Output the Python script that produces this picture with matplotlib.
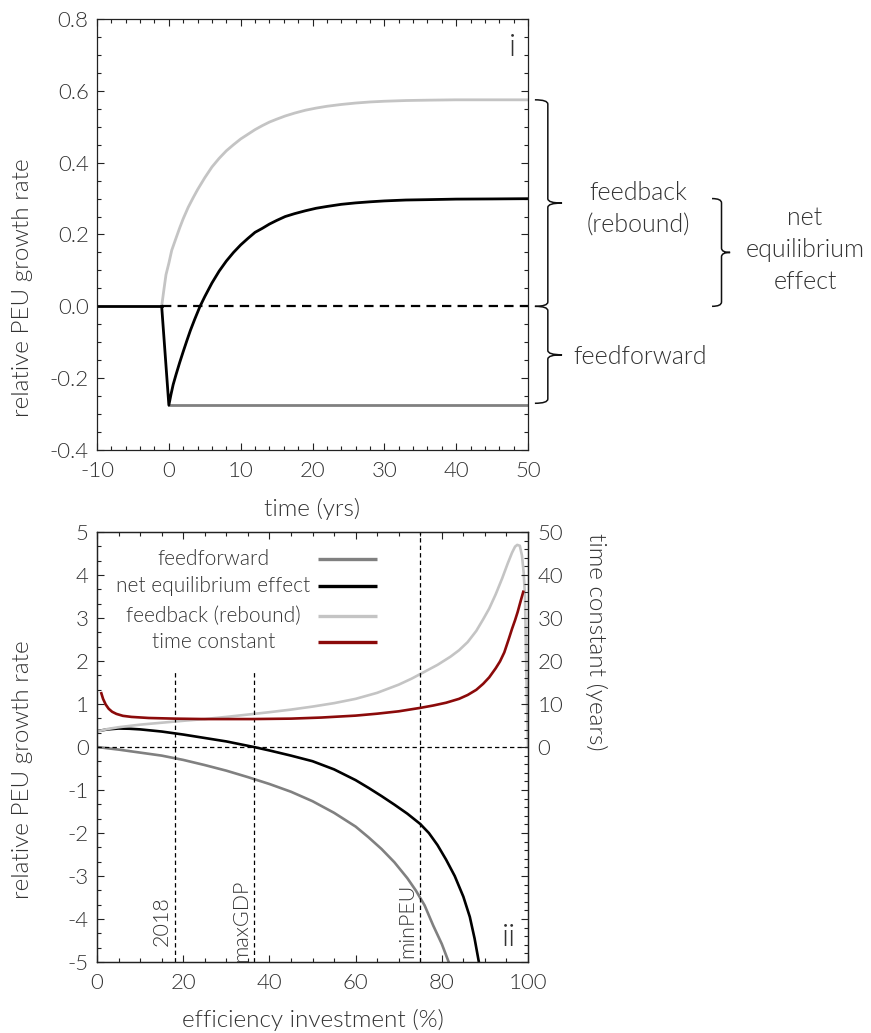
import os
import matplotlib
matplotlib.use("Agg")
import matplotlib.pyplot as plt
import matplotlib.transforms as mtransforms
from matplotlib import font_manager as fm
from matplotlib.path import Path
from matplotlib.patches import PathPatch
from matplotlib.ticker import MultipleLocator, FormatStrFormatter, FuncFormatter

# pick a real "Light" face (not hairline/thin) if one is installed
light_files = ["Lato-Light.ttf", "OpenSans-Light.ttf", "Roboto-Light.ttf",
               "NotoSans-Light.ttf", "Inter-Light.ttf"]
font_name, font_weight = "Lato", "normal"
entries = fm.fontManager.ttflist
found = False
for lf in light_files:
    for f in entries:
        if os.path.basename(f.fname) == lf:
            font_name, font_weight = f.name, f.weight
            found = True
            break
    if found:
        break

plt.rcParams["font.family"] = [font_name, "DejaVu Sans"]
plt.rcParams["font.weight"] = font_weight
plt.rcParams["axes.labelweight"] = font_weight
plt.rcParams["axes.unicode_minus"] = False
TXT = "#333333"

C_FF = "#808080"
C_NET = "#000000"
C_FB = "#c4c4c4"
C_TC = "#8b0a0a"

# ---- panel i: response over time (yrs) ----
t_pre = [-10, -1]
v_pre = [0, 0]

t_fb = [-1, -0.7, -0.4, 0, 0.4, 1, 1.5, 2, 2.7, 3.4, 4, 5, 6, 7, 8, 9, 10,
        11, 12, 13, 14, 15, 16.2, 17.5, 19, 20.5, 22, 24, 26, 28, 30, 33, 36,
        40, 45, 50]
v_fb = [0, 0.045, 0.088, 0.12, 0.156, 0.19, 0.218, 0.244, 0.276, 0.303,
        0.325, 0.358, 0.388, 0.412, 0.433, 0.45, 0.466, 0.479, 0.492, 0.503,
        0.513, 0.521, 0.530, 0.538, 0.546, 0.552, 0.557, 0.562, 0.566, 0.569,
        0.571, 0.573, 0.574, 0.575, 0.575, 0.575]

t_net = [-1, 0, 0.3, 0.6, 1, 1.5, 2, 2.5, 3, 3.6, 4.34, 5, 6, 7, 8, 9, 10,
         11, 12, 13, 14, 15, 16.2, 17.5, 19, 20.5, 22, 24, 26, 28, 30, 33,
         36, 40, 45, 50]
v_net = [0, -0.275, -0.245, -0.218, -0.19, -0.157, -0.126, -0.096, -0.067,
         -0.036, 0.0, 0.027, 0.065, 0.098, 0.126, 0.15, 0.171, 0.189, 0.206,
         0.217, 0.229, 0.239, 0.25, 0.258, 0.266, 0.273, 0.278, 0.284, 0.288,
         0.291, 0.2935, 0.296, 0.297, 0.2985, 0.299, 0.2997]

t_ff = [0, 50]
v_ff = [-0.275, -0.275]

t_ref = [-1, 50]
v_ref = [0, 0]

# ---- panel ii: equilibrium effects vs efficiency investment (%) ----
e_ff = [0, 5, 10, 15, 20, 25, 30, 35, 40, 45, 50, 55, 60, 63, 66, 69, 72,
        74, 76, 78, 80, 81.6]
g_ff = [0, -0.06, -0.13, -0.2, -0.3, -0.42, -0.55, -0.7, -0.86, -1.04,
        -1.26, -1.53, -1.85, -2.1, -2.37, -2.68, -3.05, -3.34, -3.68, -4.15,
        -4.58, -5.0]

e_net = [0, 2.5, 5, 7.5, 10, 15, 20, 25, 30, 36.4, 40, 45, 50, 55, 60, 63,
         66, 69, 72, 75, 77, 79, 81, 83, 85, 86.5, 87.6, 88.6]
g_net = [0.37, 0.41, 0.43, 0.425, 0.41, 0.36, 0.29, 0.21, 0.13, 0.0, -0.08,
         -0.2, -0.33, -0.52, -0.77, -0.95, -1.14, -1.34, -1.55, -1.79, -2.0,
         -2.28, -2.62, -3.0, -3.48, -3.95, -4.45, -5.0]

e_fb = [0, 2.5, 5, 10, 15, 20, 25, 30, 36.4, 40, 45, 50, 55, 60, 65, 70, 73,
        76, 79, 82, 84, 86, 88, 89.6, 91, 92.5, 94, 95.3, 96.3, 97, 97.5,
        98.1, 98.6, 99, 99.3, 99.6, 100]
g_fb = [0.36, 0.42, 0.46, 0.52, 0.565, 0.61, 0.65, 0.70, 0.77, 0.81, 0.87,
        0.94, 1.02, 1.12, 1.26, 1.45, 1.59, 1.75, 1.91, 2.1, 2.25, 2.44, 2.7,
        2.97, 3.22, 3.55, 3.92, 4.27, 4.52, 4.66, 4.70, 4.68, 4.45, 4.05,
        3.5, 1.8, 0.0]

e_tc = [1, 1.4, 2, 2.7, 3.5, 4.5, 6, 8, 12, 18, 25, 36, 45, 52, 60, 65, 70,
        75, 78, 81, 84, 86, 88, 89.6, 91, 92.5, 93.5, 94.5, 95.5, 96.3, 97,
        97.6, 98.2, 98.9]
tau_tc = [12.5, 11.2, 9.9, 8.9, 8.2, 7.7, 7.25, 7.0, 6.75, 6.6, 6.5, 6.5,
          6.6, 6.85, 7.3, 7.75, 8.3, 9.1, 9.65, 10.3, 11.2, 12.1, 13.3, 14.7,
          16.2, 18.3, 19.9, 22, 25, 27.5, 29.5, 31.4, 33.6, 36.1]

marker_x = [18, 36.4, 75]
marker_top = [1.75, 1.75, 5.0]
marker_labels = ["2018", "maxGDP", "minPEU"]

legend_labels = ["feedforward", "net equilibrium effect", "feedback (rebound)",
                 "time constant"]
legend_colors = [C_FF, C_NET, C_FB, C_TC]

FS_TICK = 16
FS_LAB = 17.5
FS_ANN = 18


def style_axis(ax):
    for s in ax.spines.values():
        s.set_linewidth(0.9)
        s.set_color("#222222")
    ax.tick_params(which="both", direction="in", colors="#222222",
                   labelcolor=TXT, labelsize=FS_TICK, width=0.8)
    ax.tick_params(which="major", length=5)
    ax.tick_params(which="minor", length=2.8)


def brace(ax, x0, x1, x2, y_top, y_bot, r):
    ym = (y_top + y_bot) / 2
    verts = [(x0, y_top), (x1, y_top), (x1, y_top - r),
             (x1, ym + r), (x1, ym), (x2, ym),
             (x1, ym), (x1, ym - r),
             (x1, y_bot + r), (x1, y_bot), (x0, y_bot)]
    codes = [Path.MOVETO, Path.CURVE3, Path.CURVE3,
             Path.LINETO, Path.CURVE3, Path.CURVE3,
             Path.CURVE3, Path.CURVE3,
             Path.LINETO, Path.CURVE3, Path.CURVE3]
    tr = mtransforms.blended_transform_factory(ax.transAxes, ax.transData)
    ax.add_patch(PathPatch(Path(verts, codes), fill=False, lw=1.1,
                           edgecolor="#111111", transform=tr, clip_on=False))


fig = plt.figure(figsize=(8.71, 10.33), dpi=100)

# ---------------- panel i ----------------
ax1 = fig.add_axes([0.1114, 0.5644, 0.4948, 0.4172])
ax1.plot(t_ff, v_ff, color=C_FF, lw=2.0)
ax1.plot(t_fb, v_fb, color=C_FB, lw=2.0)
ax1.plot(t_ref, v_ref, color="black", lw=1.6, ls=(0, (4.2, 2.8)))
ax1.plot(t_pre, v_pre, color=C_NET, lw=2.0)
ax1.plot(t_net, v_net, color=C_NET, lw=2.0)
ax1.set_xlim(-10, 50)
ax1.set_ylim(-0.4, 0.8)
ax1.xaxis.set_major_locator(MultipleLocator(10))
ax1.xaxis.set_minor_locator(MultipleLocator(2))
ax1.yaxis.set_major_locator(MultipleLocator(0.2))
ax1.yaxis.set_minor_locator(MultipleLocator(0.05))
ax1.yaxis.set_major_formatter(FormatStrFormatter("%.1f"))
style_axis(ax1)
ax1.tick_params(which="both", top=True, right=True)
ax1.tick_params(axis="x", pad=8)
ax1.tick_params(axis="y", pad=6)
ax1.set_xlabel("time (yrs)", fontsize=FS_LAB, color=TXT, labelpad=12)
ax1.set_ylabel("relative PEU growth rate", fontsize=FS_LAB, color=TXT)
ax1.yaxis.set_label_coords(-0.148, 0.376)
ax1.text(0.963, 0.935, "i", transform=ax1.transAxes, fontsize=23,
         color=TXT, ha="center", va="center")

brace(ax1, 1.016, 1.046, 1.079, 0.575, 0.0, 0.012)
brace(ax1, 1.016, 1.046, 1.079, 0.0, -0.27, 0.012)
brace(ax1, 1.427, 1.449, 1.469, 0.30, 0.0, 0.012)
trb = mtransforms.blended_transform_factory(ax1.transAxes, ax1.transData)
ax1.text(1.255, 0.27, "feedback\n(rebound)", transform=trb, fontsize=FS_ANN,
         color=TXT, ha="center", va="center", linespacing=1.42)
ax1.text(1.26, -0.142, "feedforward", transform=trb, fontsize=FS_ANN,
         color=TXT, ha="center", va="center")
ax1.text(1.643, 0.156, "net\nequilibrium\neffect", transform=trb,
         fontsize=FS_ANN, color=TXT, ha="center", va="center",
         linespacing=1.42)

# ---------------- panel ii ----------------
ax2 = fig.add_axes([0.1114, 0.0687, 0.4948, 0.4163])
ax2.plot(e_ff, g_ff, color=C_FF, lw=1.9)
ax2.plot(e_net, g_net, color=C_NET, lw=1.9)
ax2.plot(e_fb, g_fb, color=C_FB, lw=1.9)
ax2.axhline(0, color="black", lw=0.9, ls=(0, (3.5, 2.5)))
for mx, mt, ml in zip(marker_x, marker_top, marker_labels):
    ax2.plot([mx, mx], [-5, mt], color="black", lw=0.9, ls=(0, (3.5, 2.5)))
    ax2.text(mx - 0.6, -4.05, ml, rotation=90, ha="right", va="center",
             fontsize=15.5, color=TXT)
ax2.set_xlim(0, 100)
ax2.set_ylim(-5, 5)
ax2.xaxis.set_major_locator(MultipleLocator(20))
ax2.xaxis.set_minor_locator(MultipleLocator(5))
ax2.yaxis.set_major_locator(MultipleLocator(1))
ax2.yaxis.set_minor_locator(MultipleLocator(1 / 3))
style_axis(ax2)
ax2.tick_params(which="both", top=True, right=False)
ax2.tick_params(axis="x", pad=8)
ax2.tick_params(axis="y", pad=6)
ax2.set_xlabel("efficiency investment (%)", fontsize=FS_LAB, color=TXT,
               labelpad=11)
ax2.set_ylabel("relative PEU growth rate", fontsize=FS_LAB, color=TXT)
ax2.yaxis.set_label_coords(-0.148, 0.447)
ax2.text(0.955, 0.058, "ii", transform=ax2.transAxes, fontsize=23,
         color=TXT, ha="center", va="center")

ax3 = ax2.twinx()
ax3.plot(e_tc, tau_tc, color=C_TC, lw=1.9)
ax3.set_ylim(-50, 50)
ax3.yaxis.set_major_locator(MultipleLocator(10))
ax3.yaxis.set_minor_locator(MultipleLocator(2))
ax3.yaxis.set_major_formatter(
    FuncFormatter(lambda v, p: "" if v < 0 else "%d" % v))
style_axis(ax3)
ax3.tick_params(axis="y", pad=7)
ax3.set_ylabel("time constant (years)", fontsize=FS_LAB, color=TXT,
               rotation=270)
ax3.yaxis.set_label_coords(1.183, 0.745)

# legend drawn inside axes coordinates
leg_y = [0.937, 0.874, 0.805, 0.744]
for lab, col, ly in zip(legend_labels, legend_colors, leg_y):
    ax2.plot([0.513, 0.650], [ly, ly], color=col, lw=2.4,
             transform=ax2.transAxes, solid_capstyle="butt")
    ax2.text(0.27, ly, lab, transform=ax2.transAxes, fontsize=15,
             color=TXT, ha="center", va="center")

fig.savefig("out.png", dpi=100)
